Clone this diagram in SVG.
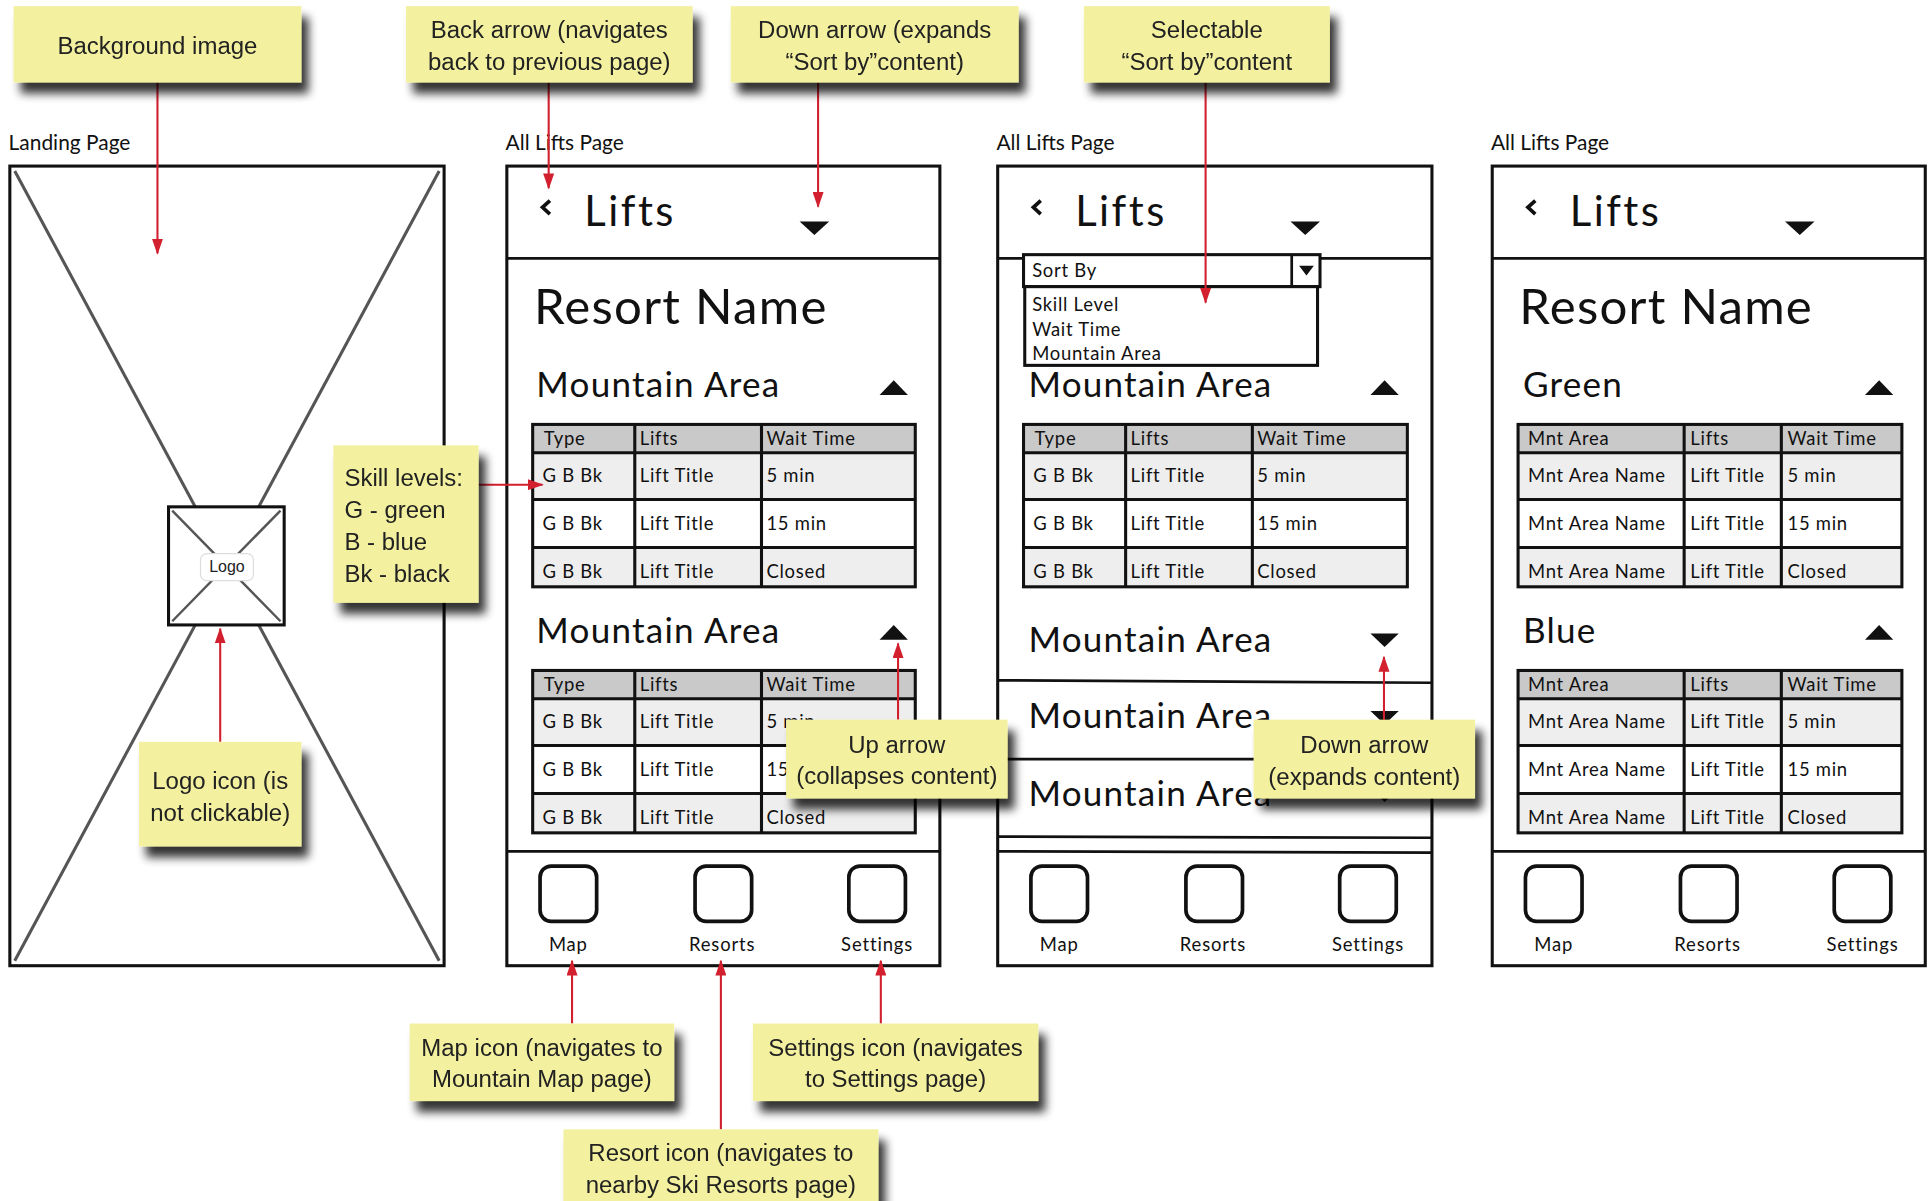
<svg xmlns="http://www.w3.org/2000/svg" width="1929" height="1201" viewBox="0 0 1929 1201">
<defs>
<style>
.note{fill:#F3F19F}
.nt{font-family:'Liberation Sans',Arial,sans-serif;font-size:19.5px;fill:#222;text-anchor:middle}
.ntl{font-family:'Liberation Sans',Arial,sans-serif;font-size:19.5px;fill:#222}
.frame{fill:#fff;stroke:#111;stroke-width:2.5}
.ln{stroke:#111;stroke-width:2.2;fill:none}
.xl{stroke:#555;stroke-width:2.5;fill:none}
.tri{fill:#111}
.lbl{font-family:Lato,'Noto Sans',sans-serif;font-size:17px;fill:#111}
.h1{font-family:Lato,'Noto Sans',sans-serif;font-size:34px;fill:#111;letter-spacing:2px}
.h2{font-family:Lato,'Noto Sans',sans-serif;font-size:40px;fill:#111;letter-spacing:1px}
.h3{font-family:Lato,'Noto Sans',sans-serif;font-size:28.5px;fill:#111;letter-spacing:1px}
.td{font-family:Lato,'Noto Sans',sans-serif;font-size:15px;fill:#111;letter-spacing:0.6px}
.nav{font-family:Lato,'Noto Sans',sans-serif;font-size:15px;fill:#111;text-anchor:middle;letter-spacing:0.7px}
.tb{stroke:#111;stroke-width:2.5;fill:none}
.hdr{fill:#C9C9C9}
.alt{fill:#EEEEEE}
.ico{fill:#fff;stroke:#111;stroke-width:3}
.conn{stroke:#D2202F;stroke-width:1.7;fill:none;marker-end:url(#ah)}
</style>
<marker id="ah" viewBox="0 0 13 9" refX="12" refY="4.5" markerWidth="13" markerHeight="9" markerUnits="userSpaceOnUse" orient="auto">
<path d="M0,0 L13,4.5 L0,9 z" fill="#D2202F"/>
</marker>
<filter id="sh" x="-20%" y="-20%" width="150%" height="160%">
<feGaussianBlur in="SourceAlpha" stdDeviation="4"/>
<feOffset dx="6" dy="9" result="b"/>
<feComponentTransfer><feFuncA type="linear" slope="0.8"/></feComponentTransfer>
<feMerge><feMergeNode/><feMergeNode in="SourceGraphic"/></feMerge>
</filter>
<clipPath id="ddclip"><rect x="833" y="233" width="238" height="63"/></clipPath>
</defs>
<rect width="1929" height="1201" fill="#fff"/>
<g transform="scale(1.2302)">

<!-- Landing page -->
<g id="landing-page">
<text class="lbl" x="7" y="122">Landing Page</text>
<rect class="frame" x="8" y="135" width="353" height="650"/>
<line class="xl" x1="12" y1="139" x2="357" y2="781"/>
<line class="xl" x1="357" y1="139" x2="12" y2="781"/>
<rect class="frame" x="137" y="412" width="94" height="96"/>
<line class="xl" x1="140" y1="415" x2="228" y2="505" style="stroke-width:2"/>
<line class="xl" x1="228" y1="415" x2="140" y2="505" style="stroke-width:2"/>
<rect x="163" y="450" width="43" height="22" rx="5" fill="#fff" stroke="#ddd" stroke-width="1"/>
<text x="184.5" y="465" text-anchor="middle" style="font-family:'Liberation Sans',Arial,sans-serif;font-size:13px;fill:#222">Logo</text>
</g>

<!-- All Lifts Page 1 -->
<g id="lifts-page-1">
<text class="lbl" x="411" y="122">All Lifts Page</text>
<rect class="frame" x="412" y="135" width="352" height="650"/>
<polyline class="ln" points="447,163 441,168.5 447,174" style="stroke-width:3"/>
<text class="h1" x="475" y="184">Lifts</text>
<polygon class="tri" points="650,180 674,180 662,191"/>
<line class="ln" x1="412" y1="210" x2="764" y2="210"/>
<text class="h2" x="434" y="263">Resort Name</text>
<text class="h3" x="436" y="323">Mountain Area</text>
<polygon class="tri" points="715,321 738,321 726.5,309"/>
<g>
<rect class="hdr" x="433" y="345" width="311" height="23"/>
<rect class="alt" x="433" y="368" width="311" height="38"/>
<rect class="alt" x="433" y="445" width="311" height="32"/>
<rect class="tb" x="433" y="345" width="311" height="132"/>
<path class="tb" d="M433,368H744M433,406H744M433,445H744M516,345V477M619,345V477"/>
<text class="td" x="442" y="362">Type</text><text class="td" x="520" y="362">Lifts</text><text class="td" x="623" y="362">Wait Time</text>
<text class="td" x="441" y="392">G B Bk</text><text class="td" x="520" y="392">Lift Title</text><text class="td" x="623" y="392">5 min</text>
<text class="td" x="441" y="431">G B Bk</text><text class="td" x="520" y="431">Lift Title</text><text class="td" x="623" y="431">15 min</text>
<text class="td" x="441" y="470">G B Bk</text><text class="td" x="520" y="470">Lift Title</text><text class="td" x="623" y="470">Closed</text>
</g>
<text class="h3" x="436" y="523">Mountain Area</text>
<polygon class="tri" points="715,520 738,520 726.5,508"/>
<g>
<rect class="hdr" x="433" y="545" width="311" height="23"/>
<rect class="alt" x="433" y="568" width="311" height="38"/>
<rect class="alt" x="433" y="645" width="311" height="32"/>
<rect class="tb" x="433" y="545" width="311" height="132"/>
<path class="tb" d="M433,568H744M433,606H744M433,645H744M516,545V677M619,545V677"/>
<text class="td" x="442" y="562">Type</text><text class="td" x="520" y="562">Lifts</text><text class="td" x="623" y="562">Wait Time</text>
<text class="td" x="441" y="592">G B Bk</text><text class="td" x="520" y="592">Lift Title</text><text class="td" x="623" y="592">5 min</text>
<text class="td" x="441" y="631">G B Bk</text><text class="td" x="520" y="631">Lift Title</text><text class="td" x="623" y="631">15 min</text>
<text class="td" x="441" y="670">G B Bk</text><text class="td" x="520" y="670">Lift Title</text><text class="td" x="623" y="670">Closed</text>
</g>
<line class="ln" x1="412" y1="692" x2="764" y2="692"/>
<rect class="ico" x="439" y="704" width="46" height="45" rx="9"/>
<rect class="ico" x="565" y="704" width="46" height="45" rx="9"/>
<rect class="ico" x="690" y="704" width="46" height="45" rx="9"/>
<text class="nav" x="462" y="773">Map</text><text class="nav" x="587" y="773">Resorts</text><text class="nav" x="713" y="773">Settings</text>
</g>

<!-- All Lifts Page 2 -->
<g id="lifts-page-2">
<text class="lbl" x="810" y="122">All Lifts Page</text>
<rect class="frame" x="811" y="135" width="353" height="650"/>
<polyline class="ln" points="846,163 840,168.5 846,174" style="stroke-width:3"/>
<text class="h1" x="874" y="184">Lifts</text>
<polygon class="tri" points="1049,180 1073,180 1061,191"/>
<line class="ln" x1="811" y1="210" x2="1164" y2="210"/>
<text class="h3" x="836" y="323">Mountain Area</text>
<polygon class="tri" points="1114,321 1137,321 1125.5,309"/>
<g>
<rect class="hdr" x="832" y="345" width="312" height="23"/>
<rect class="alt" x="832" y="368" width="312" height="38"/>
<rect class="alt" x="832" y="445" width="312" height="32"/>
<rect class="tb" x="832" y="345" width="312" height="132"/>
<path class="tb" d="M832,368H1144M832,406H1144M832,445H1144M915,345V477M1018,345V477"/>
<text class="td" x="841" y="362">Type</text><text class="td" x="919" y="362">Lifts</text><text class="td" x="1022" y="362">Wait Time</text>
<text class="td" x="840" y="392">G B Bk</text><text class="td" x="919" y="392">Lift Title</text><text class="td" x="1022" y="392">5 min</text>
<text class="td" x="840" y="431">G B Bk</text><text class="td" x="919" y="431">Lift Title</text><text class="td" x="1022" y="431">15 min</text>
<text class="td" x="840" y="470">G B Bk</text><text class="td" x="919" y="470">Lift Title</text><text class="td" x="1022" y="470">Closed</text>
</g>
<text class="h3" x="836" y="530">Mountain Area</text>
<polygon class="tri" points="1114,515 1137,515 1125.5,526"/>
<line class="ln" x1="811" y1="553" x2="1164" y2="555"/>
<text class="h3" x="836" y="592">Mountain Area</text>
<polygon class="tri" points="1114,578 1137,578 1125.5,589"/>
<line class="ln" x1="811" y1="617" x2="1164" y2="617"/>
<text class="h3" x="836" y="655">Mountain Area</text>
<polygon class="tri" points="1114,641 1137,641 1125.5,652"/>
<line class="ln" x1="811" y1="680" x2="1164" y2="681"/>
<line class="ln" x1="811" y1="692" x2="1164" y2="693"/>
<rect class="ico" x="838" y="704" width="46" height="45" rx="9"/>
<rect class="ico" x="964" y="704" width="46" height="45" rx="9"/>
<rect class="ico" x="1089" y="704" width="46" height="45" rx="9"/>
<text class="nav" x="861" y="773">Map</text><text class="nav" x="986" y="773">Resorts</text><text class="nav" x="1112" y="773">Settings</text>
<g id="sort-dropdown">
<rect class="frame" x="832" y="207" width="241" height="26"/>
<line class="ln" x1="1050" y1="207" x2="1050" y2="233"/>
<polygon class="tri" points="1056,216 1068,216 1062,224"/>
<text class="td" x="839" y="225">Sort By</text>
<rect class="frame" x="833" y="233" width="238" height="64"/>
<g clip-path="url(#ddclip)">
<text class="td" x="839" y="253">Skill Level</text>
<text class="td" x="839" y="273">Wait Time</text>
<text class="td" x="839" y="293">Mountain Area</text>
</g>
</g>
</g>

<!-- All Lifts Page 3 -->
<g id="lifts-page-3">
<text class="lbl" x="1212" y="122">All Lifts Page</text>
<rect class="frame" x="1213" y="135" width="352" height="650"/>
<polyline class="ln" points="1248,163 1242,168.5 1248,174" style="stroke-width:3"/>
<text class="h1" x="1276" y="184">Lifts</text>
<polygon class="tri" points="1451,180 1475,180 1463,191"/>
<line class="ln" x1="1213" y1="210" x2="1565" y2="210"/>
<text class="h2" x="1235" y="263">Resort Name</text>
<text class="h3" x="1238" y="323">Green</text>
<polygon class="tri" points="1516,321 1539,321 1527.5,309"/>
<g>
<rect class="hdr" x="1234" y="345" width="312" height="23"/>
<rect class="alt" x="1234" y="368" width="312" height="38"/>
<rect class="alt" x="1234" y="445" width="312" height="32"/>
<rect class="tb" x="1234" y="345" width="312" height="132"/>
<path class="tb" d="M1234,368H1546M1234,406H1546M1234,445H1546M1369,345V477M1448,345V477"/>
<text class="td" x="1242" y="362">Mnt Area</text><text class="td" x="1374" y="362">Lifts</text><text class="td" x="1453" y="362">Wait Time</text>
<text class="td" x="1242" y="392">Mnt Area Name</text><text class="td" x="1374" y="392">Lift Title</text><text class="td" x="1453" y="392">5 min</text>
<text class="td" x="1242" y="431">Mnt Area Name</text><text class="td" x="1374" y="431">Lift Title</text><text class="td" x="1453" y="431">15 min</text>
<text class="td" x="1242" y="470">Mnt Area Name</text><text class="td" x="1374" y="470">Lift Title</text><text class="td" x="1453" y="470">Closed</text>
</g>
<text class="h3" x="1238" y="523">Blue</text>
<polygon class="tri" points="1516,520 1539,520 1527.5,508"/>
<g>
<rect class="hdr" x="1234" y="545" width="312" height="23"/>
<rect class="alt" x="1234" y="568" width="312" height="38"/>
<rect class="alt" x="1234" y="645" width="312" height="32"/>
<rect class="tb" x="1234" y="545" width="312" height="132"/>
<path class="tb" d="M1234,568H1546M1234,606H1546M1234,645H1546M1369,545V677M1448,545V677"/>
<text class="td" x="1242" y="562">Mnt Area</text><text class="td" x="1374" y="562">Lifts</text><text class="td" x="1453" y="562">Wait Time</text>
<text class="td" x="1242" y="592">Mnt Area Name</text><text class="td" x="1374" y="592">Lift Title</text><text class="td" x="1453" y="592">5 min</text>
<text class="td" x="1242" y="631">Mnt Area Name</text><text class="td" x="1374" y="631">Lift Title</text><text class="td" x="1453" y="631">15 min</text>
<text class="td" x="1242" y="670">Mnt Area Name</text><text class="td" x="1374" y="670">Lift Title</text><text class="td" x="1453" y="670">Closed</text>
</g>
<line class="ln" x1="1213" y1="692" x2="1565" y2="692"/>
<rect class="ico" x="1240" y="704" width="46" height="45" rx="9"/>
<rect class="ico" x="1366" y="704" width="46" height="45" rx="9"/>
<rect class="ico" x="1491" y="704" width="46" height="45" rx="9"/>
<text class="nav" x="1263" y="773">Map</text><text class="nav" x="1388" y="773">Resorts</text><text class="nav" x="1514" y="773">Settings</text>
</g>

<!-- Connectors -->
<g id="connectors">
<line class="conn" x1="128" y1="67" x2="128" y2="206"/>
<line class="conn" x1="446" y1="67" x2="446" y2="153"/>
<line class="conn" x1="665" y1="67" x2="665" y2="168"/>
<line class="conn" x1="980" y1="67" x2="980" y2="246"/>
<line class="conn" x1="389" y1="394" x2="441" y2="394"/>
<line class="conn" x1="179" y1="603" x2="179" y2="511"/>
<line class="conn" x1="730" y1="585" x2="730" y2="523"/>
<line class="conn" x1="1125" y1="585" x2="1125" y2="534"/>
<line class="conn" x1="465" y1="832" x2="465" y2="781"/>
<line class="conn" x1="716" y1="832" x2="716" y2="781"/>
<line class="conn" x1="586" y1="918" x2="586" y2="781"/>
</g>

<!-- Callouts -->
<g id="note-background" filter="url(#sh)">
<rect class="note" x="11" y="5" width="234" height="62"/>
<text class="nt" x="128" y="44">Background image</text>
</g>
<g id="note-back-arrow" filter="url(#sh)">
<rect class="note" x="330" y="5" width="233" height="62"/>
<text class="nt" x="446.5" y="31">Back arrow (navigates</text>
<text class="nt" x="446.5" y="57">back to previous page)</text>
</g>
<g id="note-down-arrow-sort" filter="url(#sh)">
<rect class="note" x="594" y="5" width="234" height="62"/>
<text class="nt" x="711" y="31">Down arrow  (expands</text>
<text class="nt" x="711" y="57">“Sort by”content)</text>
</g>
<g id="note-selectable" filter="url(#sh)">
<rect class="note" x="881" y="5" width="200" height="62"/>
<text class="nt" x="981" y="31">Selectable</text>
<text class="nt" x="981" y="57">“Sort by”content</text>
</g>
<g id="note-skill-levels" filter="url(#sh)">
<rect class="note" x="271" y="362" width="118" height="128"/>
<text class="ntl" x="280" y="395">Skill levels:</text>
<text class="ntl" x="280" y="421">G - green</text>
<text class="ntl" x="280" y="447">B - blue</text>
<text class="ntl" x="280" y="473">Bk - black</text>
</g>
<g id="note-logo" filter="url(#sh)">
<rect class="note" x="113" y="603" width="132" height="85"/>
<text class="nt" x="179" y="641">Logo icon (is</text>
<text class="nt" x="179" y="667">not clickable)</text>
</g>
<g id="note-up-arrow" filter="url(#sh)">
<rect class="note" x="639" y="585" width="180" height="64"/>
<text class="nt" x="729" y="612">Up arrow</text>
<text class="nt" x="729" y="637">(collapses content)</text>
</g>
<g id="note-down-arrow" filter="url(#sh)">
<rect class="note" x="1019" y="585" width="180" height="64"/>
<text class="nt" x="1109" y="612">Down arrow</text>
<text class="nt" x="1109" y="638">(expands content)</text>
</g>
<g id="note-map" filter="url(#sh)">
<rect class="note" x="333" y="832" width="215" height="63"/>
<text class="nt" x="440.5" y="858">Map icon (navigates to</text>
<text class="nt" x="440.5" y="884">Mountain Map page)</text>
</g>
<g id="note-settings" filter="url(#sh)">
<rect class="note" x="612" y="832" width="232" height="63"/>
<text class="nt" x="728" y="858">Settings icon (navigates</text>
<text class="nt" x="728" y="884">to Settings page)</text>
</g>
<g id="note-resort" filter="url(#sh)">
<rect class="note" x="458" y="918" width="256" height="70"/>
<text class="nt" x="586" y="944">Resort icon (navigates to</text>
<text class="nt" x="586" y="970">nearby Ski Resorts  page)</text>
</g>

</g>
</svg>
